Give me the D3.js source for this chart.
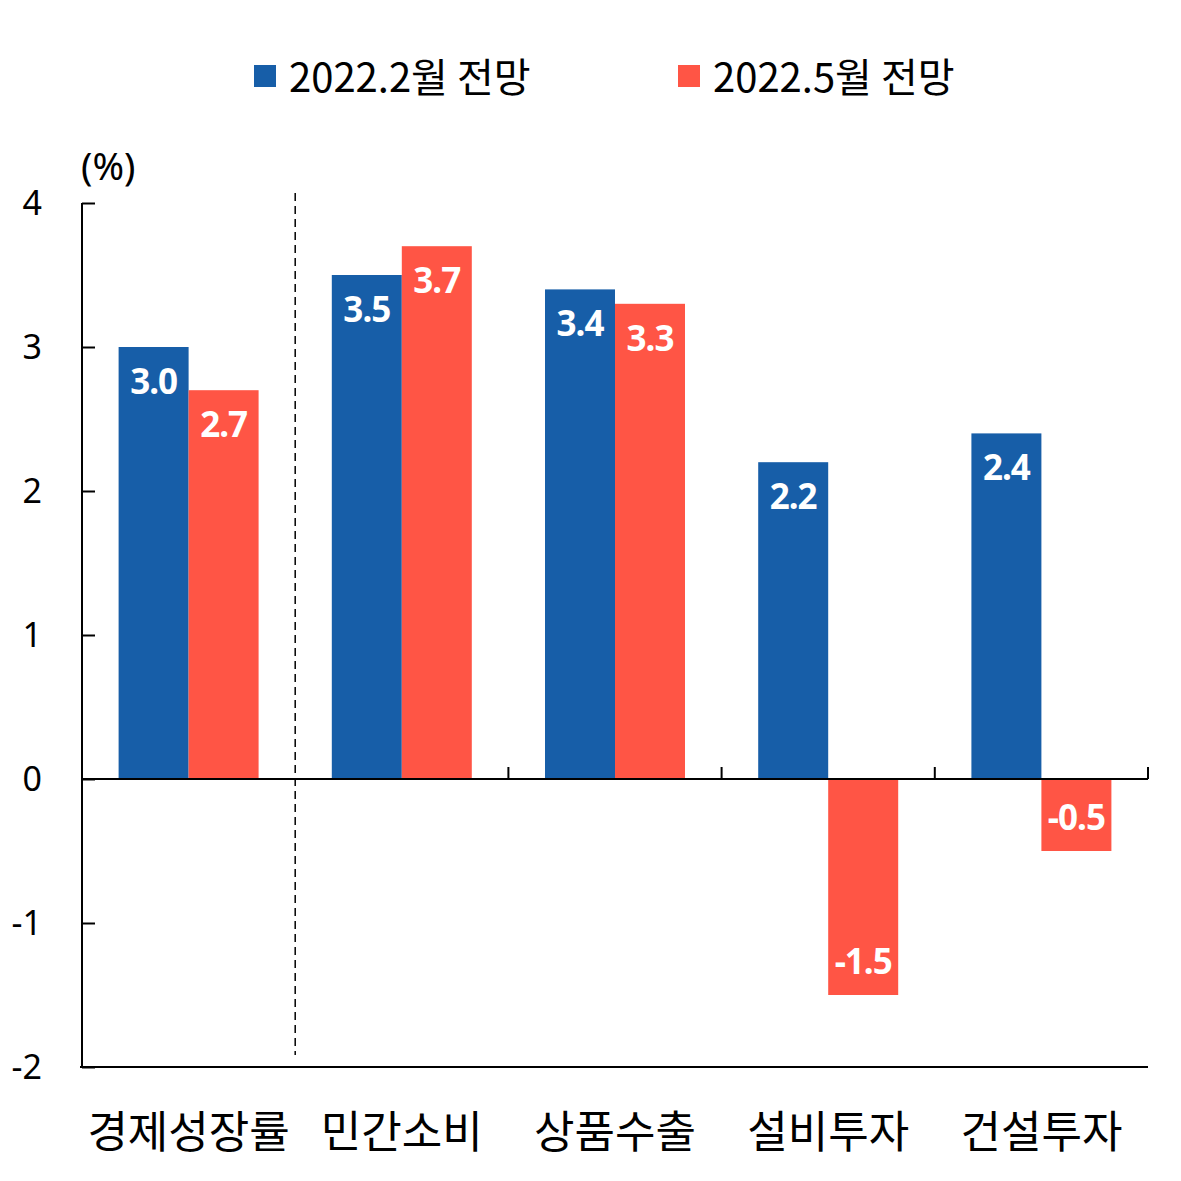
<!DOCTYPE html>
<html>
<head>
<meta charset="utf-8">
<script src="https://cdn.jsdelivr.net/npm/d3@7"></script>
<style>
  html, body { margin: 0; padding: 0; background: #fff; }
  svg { display: block; }
</style>
</head>
<body>
<svg id="chart" width="1181" height="1181"></svg>
<script>
const categories = ["경제성장률", "민간소비", "상품수출", "설비투자", "건설투자"];
const seriesNames = ["2022.2월 전망", "2022.5월 전망"];
const feb = [3.0, 3.5, 3.4, 2.2, 2.4];
const may = [2.7, 3.7, 3.3, -1.5, -0.5];
const yTicks = [-2, -1, 0, 1, 2, 3, 4];
const colors = ["#175EA8", "#FF5545"];

(function () {
const svg = d3.select("#chart");
const mL = 82, mR = 1148, mT = 203, mB = 1067;
const fontKR = "'Noto Sans CJK KR', 'Noto Sans', sans-serif";
const fontNum = "'Noto Sans', 'Noto Sans CJK KR', sans-serif";
const loc = d3.formatLocale({decimal: ".", thousands: ",", grouping: [3], currency: ["", ""], minus: "-"});
const f1 = loc.format(".1f");
const f0 = loc.format("d");

const x0 = d3.scaleBand().domain(categories).range([mL, mR]).padding(0);
const x1 = d3.scaleBand().domain(seriesNames).range([0, x0.bandwidth()])
  .paddingInner(0).paddingOuter(0.523);
const y = d3.scaleLinear().domain([-2, 4]).range([mB, mT]);

const data = categories.map((c, i) => ({
  cat: c,
  vals: [{s: seriesNames[0], v: feb[i], k: 0}, {s: seriesNames[1], v: may[i], k: 1}]
}));

// bars
const g = svg.append("g");
const groups = g.selectAll("g.cat").data(data).join("g")
  .attr("transform", d => `translate(${x0(d.cat)},0)`);
groups.selectAll("rect").data(d => d.vals).join("rect")
  .attr("x", d => x1(d.s))
  .attr("width", x1.bandwidth())
  .attr("y", d => y(Math.max(0, d.v)))
  .attr("height", d => Math.abs(y(d.v) - y(0)))
  .attr("fill", d => colors[d.k]);

// value labels
groups.selectAll("text.val").data(d => d.vals).join("text")
  .attr("class", "val")
  .attr("x", d => x1(d.s) + x1.bandwidth() / 2)
  .attr("y", d => d.v >= 0 ? y(d.v) + 47 : y(d.v) - 21)
  .attr("text-anchor", "middle")
  .attr("fill", "#fff")
  .attr("font-family", fontNum)
  .attr("font-weight", "bold")
  .attr("font-size", 35)
  .attr("letter-spacing", -1)
  .text(d => f1(d.v));

// y axis
const yAxis = d3.axisLeft(y).tickValues(yTicks).tickSize(-13).tickPadding(40)
  .tickFormat(f0);
const ya = svg.append("g").attr("transform", `translate(${mL},0)`).call(yAxis);
ya.select(".domain").attr("stroke", "#000").attr("stroke-width", 2)
  .attr("d", `M0,${mT}V${mB}`);
ya.selectAll(".tick line").attr("stroke", "#000").attr("stroke-width", 2);
ya.selectAll(".tick text")
  .attr("font-family", fontNum).attr("font-size", 34).attr("fill", "#000")
  .attr("x", -40).attr("text-anchor", "end").attr("dy", "0.35em");

// zero line with category ticks
svg.append("line").attr("x1", mL).attr("x2", mR)
  .attr("y1", y(0)).attr("y2", y(0)).attr("stroke", "#000").attr("stroke-width", 2);
const sepX = categories.map(c => x0(c) + x0.bandwidth());
svg.selectAll("line.ctick").data(sepX.slice(1)).join("line")
  .attr("class", "ctick")
  .attr("x1", d => d).attr("x2", d => d)
  .attr("y1", y(0) - 12).attr("y2", y(0))
  .attr("stroke", "#000").attr("stroke-width", 2);

// bottom line
svg.append("line").attr("x1", mL - 2).attr("x2", mR)
  .attr("y1", mB).attr("y2", mB).attr("stroke", "#000").attr("stroke-width", 2);

// dashed separator
svg.append("line").attr("x1", sepX[0]).attr("x2", sepX[0])
  .attr("y1", mT - 10).attr("y2", mB - 12)
  .attr("stroke", "#000").attr("stroke-width", 1.5).attr("stroke-dasharray", "8,5");

// category labels
svg.selectAll("text.cat").data(categories).join("text")
  .attr("class", "cat")
  .attr("x", d => x0(d) + x0.bandwidth() / 2)
  .attr("y", 1148)
  .attr("text-anchor", "middle")
  .attr("font-family", fontKR).attr("font-size", 44).attr("fill", "#000")
  .text(d => d);

// unit label
svg.append("text").attr("x", 81).attr("y", 180)
  .attr("font-family", fontNum).attr("font-size", 38).attr("fill", "#000")
  .text("(%)");

// legend
const legX = [254, 678];
const leg = svg.selectAll("g.leg").data(seriesNames).join("g")
  .attr("class", "leg")
  .attr("transform", (d, i) => `translate(${legX[i]},65)`);
leg.append("rect").attr("width", 22).attr("height", 22)
  .attr("fill", (d, i) => colors[i]);
leg.append("text").attr("x", 35).attr("y", 27)
  .attr("font-family", fontKR).attr("font-size", 40).attr("fill", "#000")
  .text(d => d);
})();
</script>
</body>
</html>
